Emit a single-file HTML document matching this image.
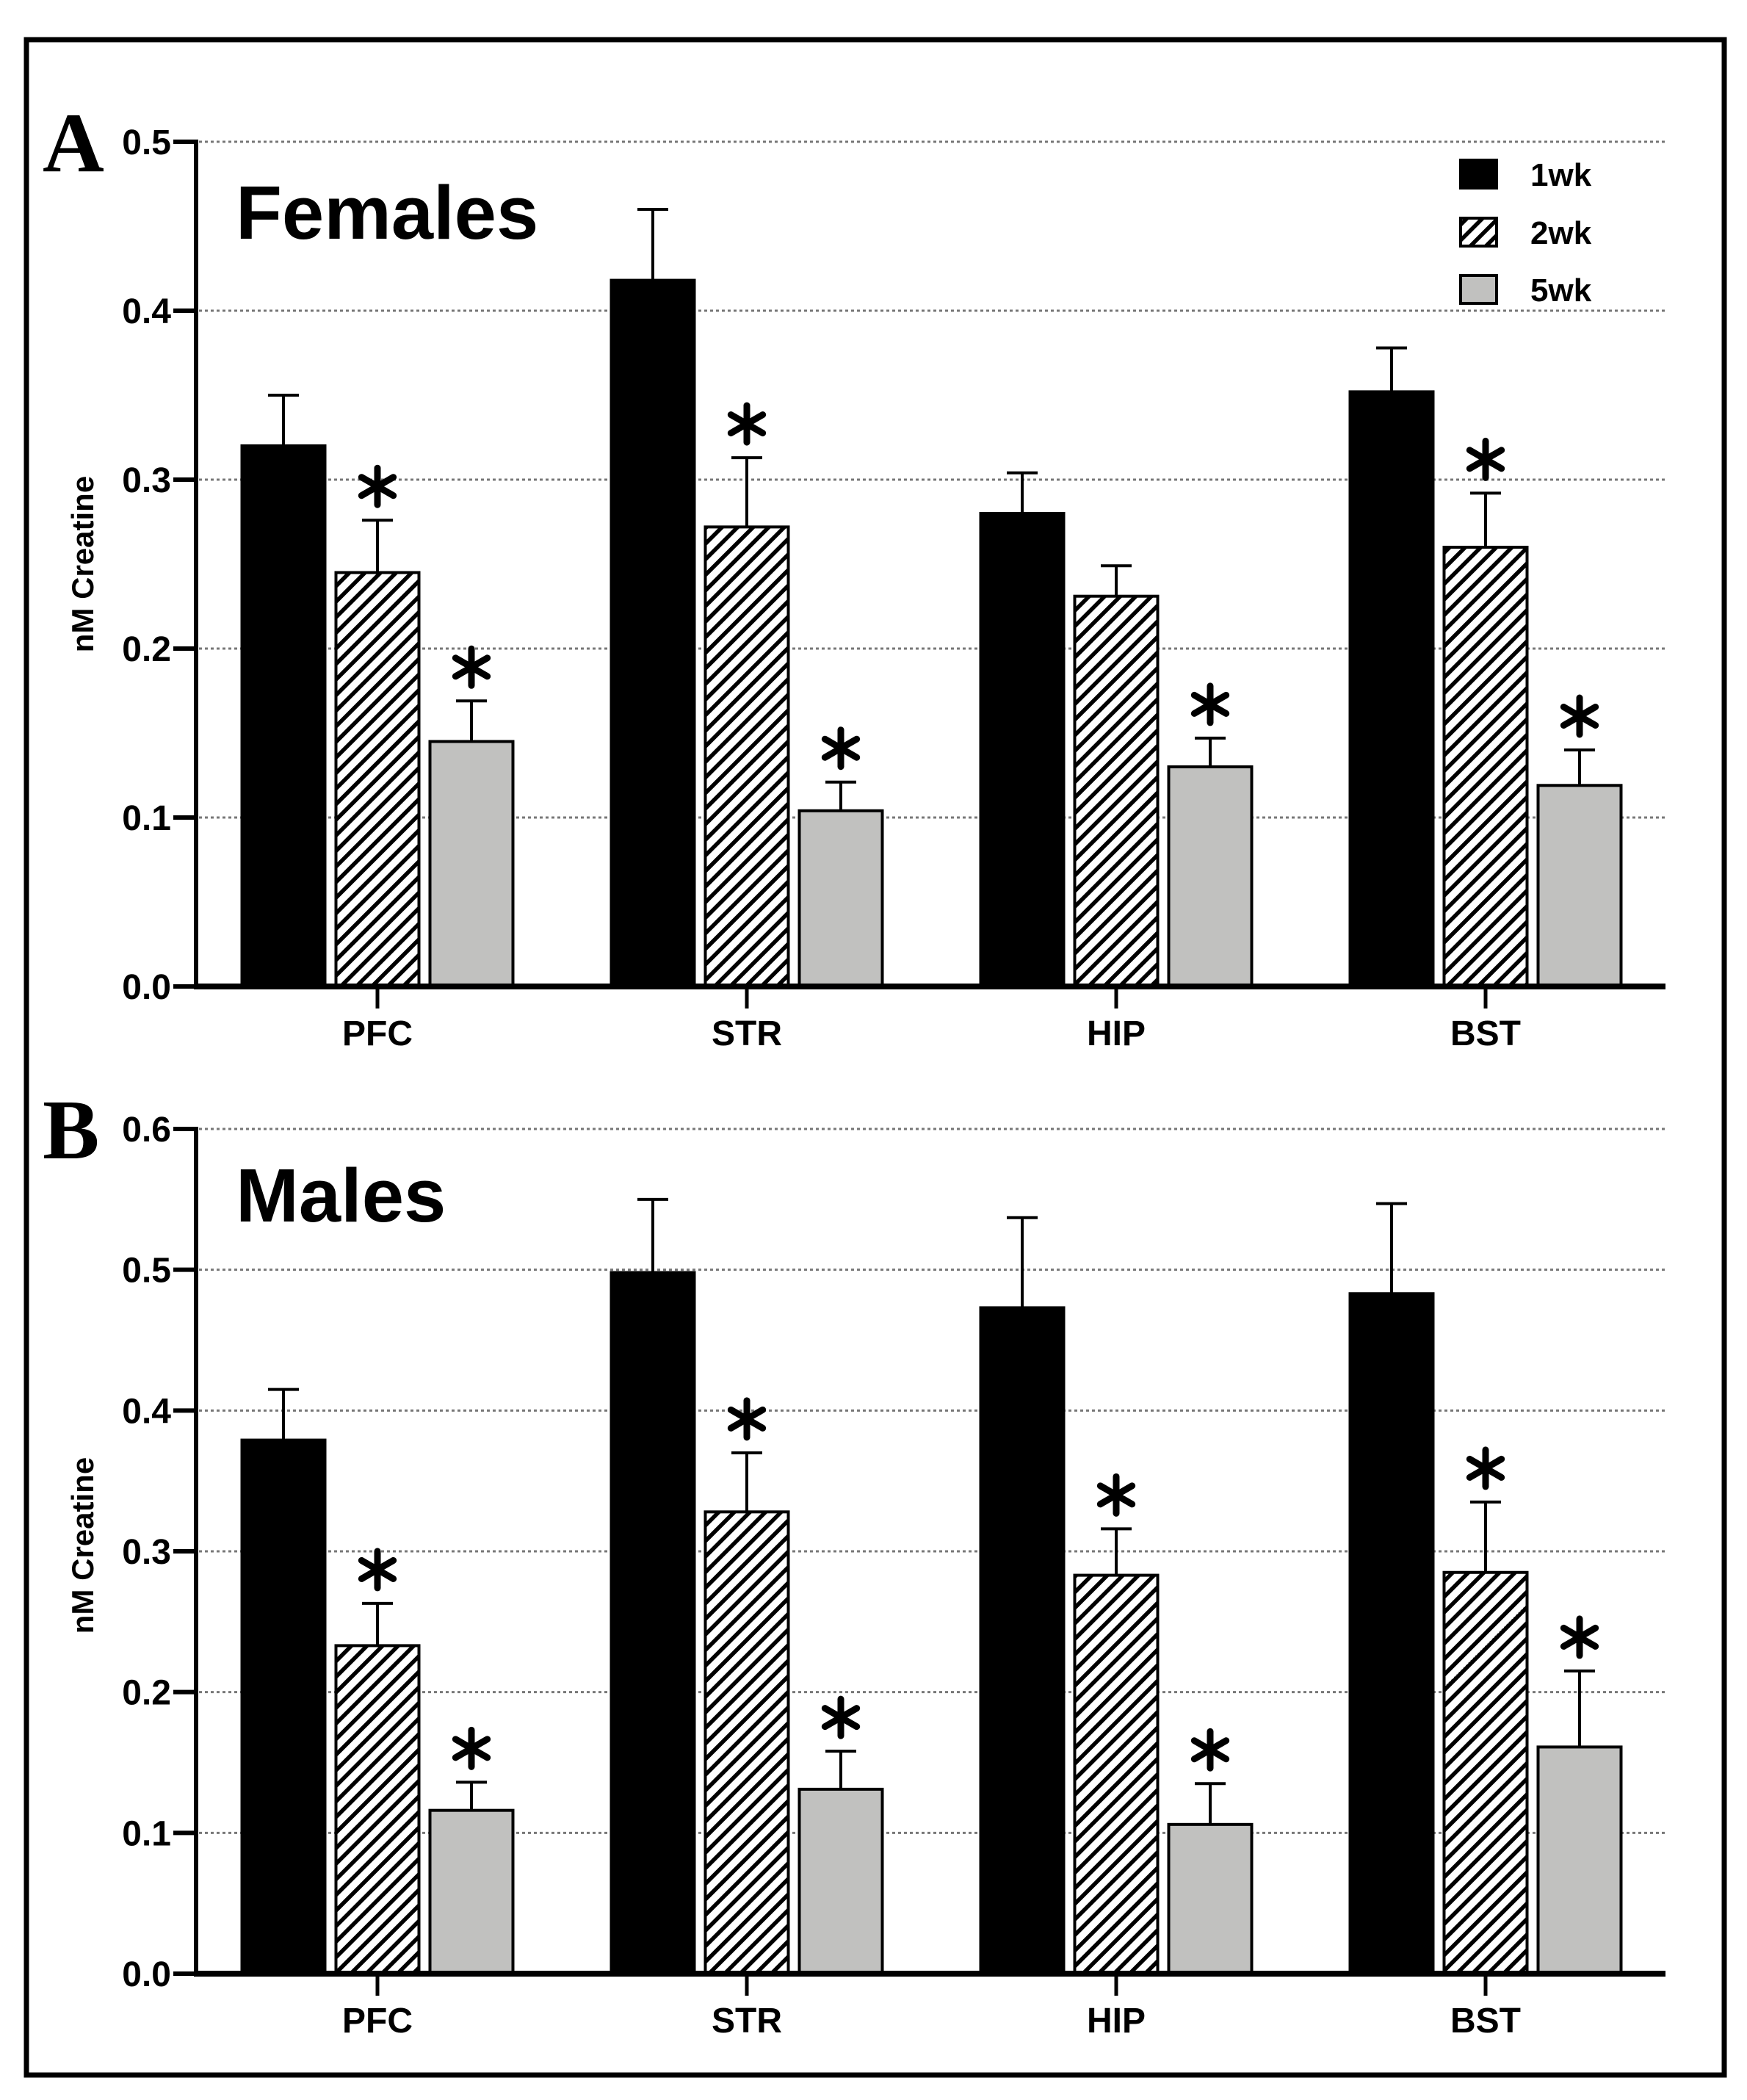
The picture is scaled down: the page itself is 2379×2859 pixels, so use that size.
<!DOCTYPE html>
<html><head><meta charset="utf-8"><style>
html,body{margin:0;padding:0;background:#fff}
svg{display:block}
text{font-family:"Liberation Sans",sans-serif}
</style></head><body>
<svg id="fig" width="2379" height="2859" viewBox="0 0 2379 2859" xmlns="http://www.w3.org/2000/svg">
<defs>
<pattern id="hatch" patternUnits="userSpaceOnUse" width="15" height="15" patternTransform="rotate(45)">
<rect width="15" height="15" fill="#fff"/><rect x="0" y="0" width="5.5" height="15" fill="#000"/>
</pattern>
</defs>
<rect x="36" y="54" width="2312" height="2771" fill="none" stroke="#000" stroke-width="7"/>
<g id="legend">
<rect x="1989" y="218" width="49" height="38" fill="#000" stroke="#000" stroke-width="4"/>
<text x="2084" y="253" font-size="44" font-weight="bold">1wk</text>
<rect x="1989" y="297" width="49" height="38" fill="url(#hatch)" stroke="#000" stroke-width="4"/>
<text x="2084" y="332" font-size="44" font-weight="bold">2wk</text>
<rect x="1989" y="375" width="49" height="38" fill="#c1c1bf" stroke="#000" stroke-width="4"/>
<text x="2084" y="410" font-size="44" font-weight="bold">5wk</text>
</g>
</svg>
<script>
const categories = ["PFC","STR","HIP","BST"];
const seriesNames = ["1wk","2wk","5wk"];
const femalesMean1 = [0.320,0.418,0.280,0.352];
const femalesMean2 = [0.245,0.272,0.231,0.260];
const femalesMean5 = [0.145,0.104,0.130,0.119];
const femalesErr1 = [0.350,0.460,0.304,0.378];
const femalesErr2 = [0.276,0.313,0.249,0.292];
const femalesErr5 = [0.169,0.121,0.147,0.140];
const femalesStar2 = [true,true,false,true];
const femalesStar5 = [true,true,true,true];
const femalesTicks = ["0.0","0.1","0.2","0.3","0.4","0.5"];
const malesMean1 = [0.379,0.498,0.473,0.483];
const malesMean2 = [0.233,0.328,0.283,0.285];
const malesMean5 = [0.116,0.131,0.106,0.161];
const malesErr1 = [0.415,0.550,0.537,0.547];
const malesErr2 = [0.263,0.370,0.316,0.335];
const malesErr5 = [0.136,0.158,0.135,0.215];
const malesStar2 = [true,true,true,true];
const malesStar5 = [true,true,true,true];
const malesTicks = ["0.0","0.1","0.2","0.3","0.4","0.5","0.6"];

const NS="http://www.w3.org/2000/svg";
const svg=document.getElementById('fig');
function mk(tag,attrs,parent){const e=document.createElementNS(NS,tag);for(const k in attrs)e.setAttribute(k,attrs[k]);(parent||svg).appendChild(e);return e;}

function panel(cfg){
  const g=mk('g',{});
  
  
  const x0=267,x1=2268;
  const ymax=parseFloat(cfg.ticks[cfg.ticks.length-1]);
  const y=v=>cfg.yBottom-(v/ymax)*(cfg.yBottom-cfg.yTop);
  const cx=i=>514+i*503;
  const offs=[-128,0,128];
  const bw=113;
  cfg.ticks.forEach((t,i)=>{
    const v=parseFloat(t);const yy=y(v);
    if(v>0){
      const gl=mk('line',{x1:x0+4,x2:x1,y1:yy,y2:yy,stroke:'#777','stroke-width':3,'stroke-dasharray':'4 4'},g);
      
      
    }
    const tk=mk('line',{x1:236,x2:x0,y1:yy,y2:yy,stroke:'#000','stroke-width':6},g);
    
    
    const tl=mk('text',{x:233,y:yy+17,'font-size':48,'font-weight':'bold','text-anchor':'end'},g);
    tl.textContent=t;
    
    
  });
  const series=[cfg.m1,cfg.m2,cfg.m5];
  const errs=[cfg.e1,cfg.e2,cfg.e5];
  const stars=[null,cfg.s2,cfg.s5];
  const fills=['#000','url(#hatch)','#c1c1bf'];
  categories.forEach((c,i)=>{
    series.forEach((s,j)=>{
      const bx=cx(i)+offs[j]-bw/2;
      const top=y(s[i]);
      const et=y(errs[j][i]);
      const ec=cx(i)+offs[j];
      const el=mk('line',{x1:ec,x2:ec,y1:top,y2:et,stroke:'#000','stroke-width':4},g);
      
      
      const cap=mk('line',{x1:ec-21,x2:ec+21,y1:et,y2:et,stroke:'#000','stroke-width':4},g);
      
      
      const r=mk('rect',{x:bx,y:top,width:bw,height:cfg.yBottom-top,fill:fills[j],stroke:'#000','stroke-width':4},g);
      
      
      if(stars[j]&&stars[j][i]){
        const sg=mk('g',{transform:'translate('+ec+','+(et-46)+')'},g);
        
        
        [90,30,150].forEach(a=>{
          const rad=a*Math.PI/180;
          mk('line',{x1:-25*Math.cos(rad),y1:-25*Math.sin(rad),x2:25*Math.cos(rad),y2:25*Math.sin(rad),stroke:'#000','stroke-width':9,'stroke-linecap':'round'},sg);
        });
      }
    });
    const xt=mk('line',{x1:cx(i),x2:cx(i),y1:cfg.yBottom,y2:cfg.yBottom+30,stroke:'#000','stroke-width':5},g);
    
    
    const xl=mk('text',{x:cx(i),y:cfg.yBottom+80,'font-size':48,'font-weight':'bold','text-anchor':'middle'},g);
    xl.textContent=c;
    
    
  });
  const ya=mk('line',{x1:x0,x2:x0,y1:cfg.yTop-3,y2:cfg.yBottom,stroke:'#000','stroke-width':6},g);
  
  
  const xa=mk('line',{x1:x0-3,x2:x1,y1:cfg.yBottom,y2:cfg.yBottom,stroke:'#000','stroke-width':8},g);
  
  
  const yt=mk('text',{x:0,y:0,'font-size':42,'font-weight':'bold','text-anchor':'middle',transform:'translate(127,'+cfg.titleY+') rotate(-90)'},g);
  yt.textContent='nM Creatine';
  
  
  const tt=mk('text',{x:321,y:cfg.headY,'font-size':103,'font-weight':'bold'},g);
  tt.textContent=cfg.title;
  
  
  const lt=mk('text',{x:58,y:cfg.letterY,'font-size':116,'font-weight':'bold',style:'font-family:"Liberation Serif",serif'},g);
  lt.textContent=cfg.letter;
  
  
}
panel({name:'panel-females',ticks:femalesTicks,yTop:193,yBottom:1343,m1:femalesMean1,m2:femalesMean2,m5:femalesMean5,e1:femalesErr1,e2:femalesErr2,e5:femalesErr5,s2:femalesStar2,s5:femalesStar5,title:'Females',headY:325,letter:'A',letterY:233,titleY:768});
panel({name:'panel-males',ticks:malesTicks,yTop:1537,yBottom:2687,m1:malesMean1,m2:malesMean2,m5:malesMean5,e1:malesErr1,e2:malesErr2,e5:malesErr5,s2:malesStar2,s5:malesStar5,title:'Males',headY:1663,letter:'B',letterY:1577,titleY:2104});
svg.appendChild(document.getElementById('legend'));
</script>
</body></html>
